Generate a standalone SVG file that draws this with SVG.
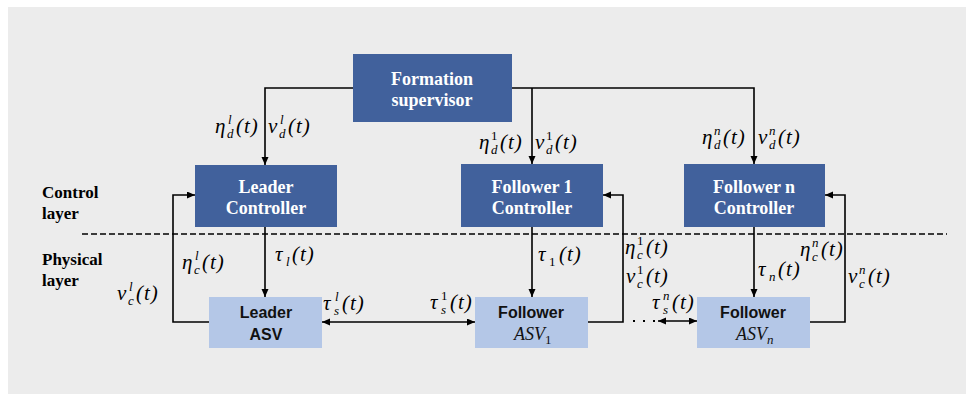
<svg xmlns="http://www.w3.org/2000/svg" width="970" height="394" viewBox="0 0 970 394">
<defs>
<marker id="ah" markerWidth="9" markerHeight="8" refX="8" refY="3.5" orient="auto-start-reverse" markerUnits="userSpaceOnUse">
<path d="M0,0 L8,3.5 L0,7 z" fill="#000"/>
</marker>
<style>
.dk{fill:#41619c}
.lt{fill:#b4c7e7}
.bt{font-family:"Liberation Serif",serif;font-weight:bold;font-size:18px;fill:#fff;text-anchor:middle}
.lay{font-family:"Liberation Serif",serif;font-weight:bold;font-size:17px;fill:#000}
.at{font-family:"Liberation Sans",Arial,sans-serif;font-weight:bold;font-size:16px;fill:#111;text-anchor:middle}
.m{font-family:"Liberation Serif",serif;font-style:italic;font-size:21px;fill:#000}
.ma{font-family:"Liberation Serif",serif;font-style:italic;font-size:18px;fill:#111}
.sb{font-size:13px}
.up{font-style:normal}
.pt{letter-spacing:1px}
.c{fill:none;stroke:#000;stroke-width:1.6}
</style>
</defs>
<rect x="0" y="0" width="970" height="394" fill="#fff"/>
<rect x="8" y="7" width="958" height="387" fill="#ececec"/>

<g id="layers">
<text class="lay" x="42" y="198">Control</text>
<text class="lay" x="42" y="219">layer</text>
<text class="lay" x="42" y="265">Physical</text>
<text class="lay" x="42" y="286">layer</text>
<line x1="82" y1="234" x2="947" y2="234" stroke="#000" stroke-width="1.5" stroke-dasharray="6,3"/>
</g>

<g id="connectors">
<polyline class="c" points="353,88 265,88 265,165" marker-end="url(#ah)"/>
<polyline class="c" points="512,88 754,88 754,164" marker-end="url(#ah)"/>
<line class="c" x1="532" y1="88" x2="532" y2="164" marker-end="url(#ah)"/>
<line class="c" x1="265" y1="227" x2="265" y2="297" marker-end="url(#ah)"/>
<line class="c" x1="532" y1="227" x2="532" y2="297" marker-end="url(#ah)"/>
<line class="c" x1="754" y1="227" x2="754" y2="297" marker-end="url(#ah)"/>
<polyline class="c" points="209,322 173,322 173,195 195,195" marker-end="url(#ah)"/>
<polyline class="c" points="588,322 623,322 623,195 603,195" marker-end="url(#ah)"/>
<polyline class="c" points="810,322 845,322 845,195 825,195" marker-end="url(#ah)"/>
<line class="c" x1="322" y1="322" x2="475" y2="322" marker-start="url(#ah)" marker-end="url(#ah)"/>
<line class="c" x1="658" y1="321" x2="697" y2="321" marker-start="url(#ah)" marker-end="url(#ah)"/>
<line x1="633" y1="321" x2="656" y2="321" stroke="#000" stroke-width="2" stroke-dasharray="2,8"/>
</g>

<g id="supervisor">
<rect class="dk" x="353" y="54" width="159" height="68"/>
<text class="bt" x="432" y="85">Formation</text>
<text class="bt" x="432" y="106">supervisor</text>
</g>
<g id="leader-controller">
<rect class="dk" x="195" y="165" width="142" height="62"/>
<text class="bt" x="266" y="193">Leader</text>
<text class="bt" x="266" y="214">Controller</text>
</g>
<g id="follower1-controller">
<rect class="dk" x="461" y="164" width="142" height="63"/>
<text class="bt" x="532" y="193">Follower 1</text>
<text class="bt" x="532" y="214">Controller</text>
</g>
<g id="followern-controller">
<rect class="dk" x="684" y="164" width="141" height="63"/>
<text class="bt" x="754" y="193">Follower n</text>
<text class="bt" x="754" y="214">Controller</text>
</g>
<g id="leader-asv">
<rect class="lt" x="209" y="297" width="113" height="51"/>
<text class="at" x="266" y="318">Leader</text>
<text class="at" x="266" y="340">ASV</text>
</g>
<g id="follower-asv1">
<rect class="lt" x="475" y="297" width="113" height="51"/>
<text class="at" x="531" y="318">Follower</text>
<text class="ma" x="514" y="340">ASV<tspan class="sb up" dy="4">1</tspan></text>
</g>
<g id="follower-asvn">
<rect class="lt" x="697" y="297" width="113" height="51"/>
<text class="at" x="753" y="318">Follower</text>
<text class="ma" x="736" y="340">ASV<tspan class="sb" dy="4">n</tspan></text>
</g>

<g id="labels">
<text class="m"><tspan x="215" y="133">η</tspan><tspan class="sb" x="227" y="138">d</tspan><tspan class="sb" x="228" y="124">l</tspan><tspan class="pt" x="236" y="133">(t)</tspan></text>
<text class="m"><tspan x="268" y="133">v</tspan><tspan class="sb" x="279" y="138">d</tspan><tspan class="sb" x="280" y="124">l</tspan><tspan class="pt" x="288" y="133">(t)</tspan></text>

<text class="m"><tspan x="479" y="149">η</tspan><tspan class="sb" x="491" y="154">d</tspan><tspan class="sb up" x="491" y="140">1</tspan><tspan class="pt" x="500" y="149">(t)</tspan></text>
<text class="m"><tspan x="535" y="149">v</tspan><tspan class="sb" x="546" y="154">d</tspan><tspan class="sb up" x="546" y="140">1</tspan><tspan class="pt" x="555" y="149">(t)</tspan></text>

<text class="m"><tspan x="702" y="144">η</tspan><tspan class="sb" x="714" y="149">d</tspan><tspan class="sb" x="714" y="135">n</tspan><tspan class="pt" x="723" y="144">(t)</tspan></text>
<text class="m"><tspan x="758" y="144">v</tspan><tspan class="sb" x="769" y="149">d</tspan><tspan class="sb" x="769" y="135">n</tspan><tspan class="pt" x="778" y="144">(t)</tspan></text>

<text class="m"><tspan x="275" y="261">τ</tspan><tspan class="sb" x="286" y="266">l</tspan><tspan class="pt" x="292" y="261">(t)</tspan></text>
<text class="m"><tspan x="182" y="269">η</tspan><tspan class="sb" x="194" y="274">c</tspan><tspan class="sb" x="195" y="260">l</tspan><tspan class="pt" x="202" y="269">(t)</tspan></text>
<text class="m"><tspan x="117" y="300">v</tspan><tspan class="sb" x="128" y="305">c</tspan><tspan class="sb" x="129" y="291">l</tspan><tspan class="pt" x="136" y="300">(t)</tspan></text>
<text class="m"><tspan x="323" y="310">τ</tspan><tspan class="sb" x="334" y="315">s</tspan><tspan class="sb" x="335" y="301">l</tspan><tspan class="pt" x="342" y="310">(t)</tspan></text>
<text class="m"><tspan x="430" y="309">τ</tspan><tspan class="sb" x="441" y="314">s</tspan><tspan class="sb up" x="441" y="300">1</tspan><tspan class="pt" x="450" y="309">(t)</tspan></text>
<text class="m"><tspan x="538" y="261">τ</tspan><tspan class="sb up" x="549" y="266">1</tspan><tspan class="pt" x="559" y="261">(t)</tspan></text>
<text class="m"><tspan x="625" y="254">η</tspan><tspan class="sb" x="637" y="259">c</tspan><tspan class="sb up" x="637" y="245">1</tspan><tspan class="pt" x="646" y="254">(t)</tspan></text>
<text class="m"><tspan x="626" y="283">v</tspan><tspan class="sb" x="637" y="288">c</tspan><tspan class="sb up" x="637" y="274">1</tspan><tspan class="pt" x="646" y="283">(t)</tspan></text>
<text class="m"><tspan x="652" y="309">τ</tspan><tspan class="sb" x="663" y="314">s</tspan><tspan class="sb" x="663" y="300">n</tspan><tspan class="pt" x="672" y="309">(t)</tspan></text>
<text class="m"><tspan x="758" y="276">τ</tspan><tspan class="sb" x="769" y="281">n</tspan><tspan class="pt" x="778" y="276">(t)</tspan></text>
<text class="m"><tspan x="800" y="256">η</tspan><tspan class="sb" x="812" y="261">c</tspan><tspan class="sb" x="812" y="247">n</tspan><tspan class="pt" x="821" y="256">(t)</tspan></text>
<text class="m"><tspan x="848" y="283">v</tspan><tspan class="sb" x="859" y="288">c</tspan><tspan class="sb" x="859" y="274">n</tspan><tspan class="pt" x="868" y="283">(t)</tspan></text>
</g>
</svg>
